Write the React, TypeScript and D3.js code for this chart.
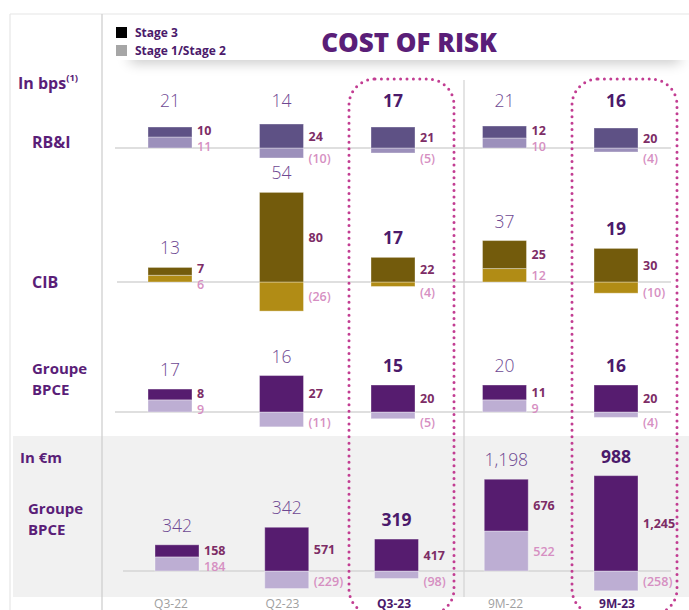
import React from "react";
import * as d3 from "d3";

const categories = ["Q3-22", "Q2-23", "Q3-23", "9M-22", "9M-23"];
const highlighted = [false, false, true, false, true];

const rbiStage3 = [10, 24, 21, 12, 20];
const rbiStage12 = [11, -10, -5, 10, -4];
const rbiTotal = [21, 14, 17, 21, 16];

const cibStage3 = [7, 80, 22, 25, 30];
const cibStage12 = [6, -26, -4, 12, -10];
const cibTotal = [13, 54, 17, 37, 19];

const bpceBpsStage3 = [8, 27, 20, 11, 20];
const bpceBpsStage12 = [9, -11, -5, 9, -4];
const bpceBpsTotal = [17, 16, 15, 20, 16];

const bpceEurStage3 = [158, 571, 417, 676, 1245];
const bpceEurStage12 = [184, -229, -98, 522, -258];
const bpceEurTotal = [342, 342, 319, 1198, 988];

const W = 689;
const H = 610;
const FONT = "'Open Sans', 'DejaVu Sans', sans-serif";
const PURPLE = "#5a1e78";
const DARK = "#4b1a6b";
const S3_LABEL = "#7d2d66";
const S12_LABEL = "#d68fc2";

const fmt = (v: number) => {
  const s = d3.format(",")(Math.abs(v));
  return v < 0 ? `(${s})` : s;
};

const xBps = d3.scalePoint<string>().domain(categories).range([170, 616]);
const xEur = d3.scalePoint<string>().domain(categories).range([177, 616]);

type Panel = {
  key: string;
  s3: number[];
  s12: number[];
  total: number[];
  baseline: number;
  k: number;
  x: d3.ScalePoint<string>;
  c3: string;
  c12: string;
  lineX0: number;
  cap: number;
};

const panels: Panel[] = [
  { key: "rbi", s3: rbiStage3, s12: rbiStage12, total: rbiTotal, baseline: 148, k: 1.0, x: xBps, c3: "#5e5185", c12: "#9c90bb", lineX0: 115, cap: 100 },
  { key: "cib", s3: cibStage3, s12: cibStage12, total: cibTotal, baseline: 282, k: 1.12, x: xBps, c3: "#735b0c", c12: "#b18c15", lineX0: 117, cap: 9999 },
  { key: "bpce", s3: bpceBpsStage3, s12: bpceBpsStage12, total: bpceBpsTotal, baseline: 412, k: 1.35, x: xBps, c3: "#561c6f", c12: "#bdaed3", lineX0: 115, cap: 9999 },
  { key: "eur", s3: bpceEurStage3, s12: bpceEurStage12, total: bpceEurTotal, baseline: 571, k: 0.0766, x: xEur, c3: "#561c6f", c12: "#bdaed3", lineX0: 123, cap: 9999 },
];

const BAR_W = 44;
const MIN_SEP = 16;

function PanelView({ p }: { p: Panel }) {
  const y = d3.scaleLinear().domain([0, 100]).range([p.baseline, p.baseline - 100 * p.k]);
  return (
    <g>
      <line x1={p.lineX0} x2={671} y1={p.baseline} y2={p.baseline} stroke="#d4d4d4" strokeWidth={1.3} />
      {categories.map((c, i) => {
        const cx = p.x(c)!;
        const x0 = cx - BAR_W / 2;
        const v3 = p.s3[i];
        const v12 = p.s12[i];
        let r3: [number, number];
        let r12: [number, number];
        if (v12 >= 0) {
          r12 = [y(v12), y(0)];
          r3 = [y(v12 + v3), y(v12)];
        } else {
          r12 = [y(0), y(v12)];
          r3 = [y(v3), y(0)];
        }
        const top = Math.min(r3[0], r12[0]);
        let ly3 = (r3[0] + r3[1]) / 2;
        let ly12 = (r12[0] + r12[1]) / 2;
        if (v12 >= 0) {
          if (ly12 - ly3 < MIN_SEP) {
            const m = (ly12 + ly3) / 2 + 1;
            ly3 = m - MIN_SEP / 2;
            ly12 = m + MIN_SEP / 2;
          }
        } else {
          ly12 = Math.max(ly12, p.baseline + 10);
          ly3 = Math.min(ly3, p.baseline - 10);
        }
        const hl = highlighted[i];
        const ty = Math.min(top - 20, p.cap);
        return (
          <g key={c}>
            <rect x={x0} y={r12[0]} width={BAR_W} height={r12[1] - r12[0]} fill={p.c12} stroke="#ffffff" strokeOpacity={0.35} strokeWidth={1} />
            <rect x={x0} y={r3[0]} width={BAR_W} height={r3[1] - r3[0]} fill={p.c3} stroke="#ffffff" strokeOpacity={0.35} strokeWidth={1} />
            <text x={x0 + BAR_W + 5} y={ly3} dominantBaseline="central" fontFamily={FONT} fontWeight={700} fontSize={12.5} fill={S3_LABEL}>{fmt(v3)}</text>
            <text x={x0 + BAR_W + 5} y={ly12} dominantBaseline="central" fontFamily={FONT} fontWeight={600} fontSize={12.5} fill={S12_LABEL}>{fmt(v12)}</text>
            <text x={cx} y={ty} dominantBaseline="central" textAnchor="middle" fontFamily={FONT} fontWeight={hl ? 700 : 300} fontSize={17.5} fill={hl ? DARK : "#6e4892"}>{fmt(p.total[i])}</text>
          </g>
        );
      })}
    </g>
  );
}

function TwoLine({ x, y, a, b }: { x: number; y: number; a: string; b: string }) {
  return (
    <g>
      <text x={x} y={y} fontFamily={FONT} fontWeight={700} fontSize={15} fill={PURPLE}>{a}</text>
      <text x={x} y={y + 20.5} fontFamily={FONT} fontWeight={700} fontSize={15} fill={PURPLE}>{b}</text>
    </g>
  );
}

export default function App() {
  return (
    <svg width={W} height={H} style={{ position: "absolute", left: 0, top: 0, background: "#fff" }}>
      <defs>
        <filter id="blur" x="-20%" y="-200%" width="140%" height="500%">
          <feGaussianBlur stdDeviation="7" />
        </filter>
      </defs>
      <rect x={0} y={0} width={W} height={H} fill="#ffffff" />
      {/* frame */}
      <line x1={10} x2={W} y1={14} y2={14} stroke="#e6e6e6" strokeWidth={1.2} />
      <line x1={10} x2={10} y1={14} y2={H} stroke="#e6e6e6" strokeWidth={1.2} />
      {/* gray money panel */}
      <rect x={13} y={436} width={W - 13} height={161} fill="#f1f1f1" />
      {/* shadow under header */}
      <rect x={130} y={50} width={550} height={12} fill="#000" opacity={0.26} filter="url(#blur)" />
      <rect x={103} y={15} width={W - 103} height={45} fill="#ffffff" />
      {/* dividers */}
      <line x1={102} x2={102} y1={14} y2={H} stroke="#cfcfcf" strokeWidth={1.3} />
      <line x1={464} x2={464} y1={80} y2={597} stroke="#d6d6d6" strokeWidth={1.3} />

      {/* legend */}
      <rect x={116} y={27} width={11} height={11} fill="#000" />
      <rect x={116} y={45} width={11} height={11} fill="#a6a6a6" />
      <text x={135} y={32.5} dominantBaseline="central" fontFamily={FONT} fontWeight={700} fontSize={12} fill={DARK}>Stage 3</text>
      <text x={135} y={50.5} dominantBaseline="central" fontFamily={FONT} fontWeight={700} fontSize={12} fill={DARK}>Stage 1/Stage 2</text>
      <text x={409} y={42} dominantBaseline="central" textAnchor="middle" fontFamily={FONT} fontWeight={800} fontSize={26} fill={PURPLE}>COST OF RISK</text>

      {/* left labels */}
      <text x={18} y={83} dominantBaseline="central" fontFamily={FONT} fontWeight={700} fontSize={16} fill={PURPLE}>
        In bps<tspan fontSize={9.5} dy={-6}>(1)</tspan>
      </text>
      <text x={32} y={142} dominantBaseline="central" fontFamily={FONT} fontWeight={700} fontSize={16} fill={PURPLE}>RB&amp;I</text>
      <text x={32} y={282} dominantBaseline="central" fontFamily={FONT} fontWeight={700} fontSize={16} fill={PURPLE}>CIB</text>
      <TwoLine x={32} y={374} a="Groupe" b="BPCE" />
      <text x={20} y={457} dominantBaseline="central" fontFamily={FONT} fontWeight={700} fontSize={15} fill={PURPLE}>In €m</text>
      <TwoLine x={28} y={514} a="Groupe" b="BPCE" />

      {panels.map((p) => (
        <PanelView key={p.key} p={p} />
      ))}

      {/* x axis labels */}
      {categories.map((c, i) => (
        <text key={c} x={xBps(c)! + 1} y={603} dominantBaseline="central" textAnchor="middle" fontFamily={FONT} fontWeight={highlighted[i] ? 700 : 400} fontSize={12} fill={highlighted[i] ? DARK : "#a0a0a0"}>{c}</text>
      ))}

      {/* dotted highlight boxes */}
      {categories.map((c, i) =>
        highlighted[i] ? (
          <rect key={"box" + c} x={xBps(c)! - 44} y={79} width={105} height={536} rx={26} ry={26} fill="none" stroke="#c23d92" strokeWidth={3} strokeDasharray="0 6.4" strokeLinecap="round" />
        ) : null
      )}
    </svg>
  );
}
